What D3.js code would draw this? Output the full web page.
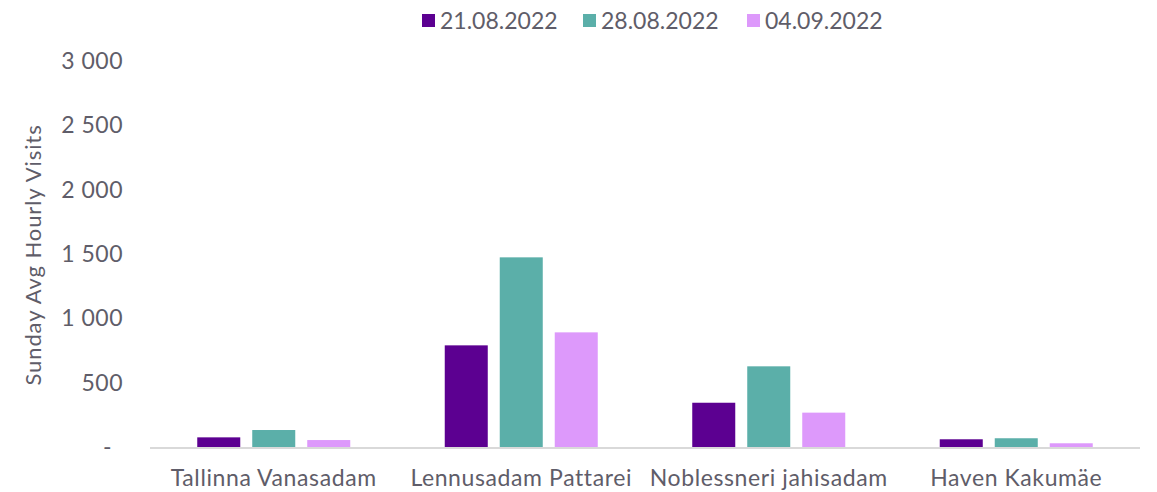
<!DOCTYPE html>
<html>
<head>
  <meta charset="utf-8">
  <title>sunday visits</title>
  <style>
    body { margin: 0; background: #fff; }
    text { font-family: Lato, "Open Sans", sans-serif; fill: #5f5d69; }
  </style>
</head>
<body>
  <svg width="1157" height="492" class="chart"></svg>

  <script src="https://d3js.org/d3.v7.min.js"></script>
  <script type="text/javascript">

  // data
  var categories = ["Tallinna Vanasadam", "Lennusadam Pattarei", "Noblessneri jahisadam", "Haven Kakumäe"];
  var seriesNames = ["21.08.2022", "28.08.2022", "04.09.2022"];
  var week1 = [75, 790, 344, 60];
  var week2 = [132, 1474, 627, 68];
  var week3 = [54, 891, 267, 29];
  var yTicks = [0, 500, 1000, 1500, 2000, 2500, 3000];
  var colors = ["#5c0091", "#5bafa9", "#dd99fb"];

  var series = [week1, week2, week3];

  var svg = d3.select(".chart");
  var plotLeft = 150, plotRight = 1140, plotTop = 61, plotBottom = 447;
  var groupW = 153;

  var x = d3.scaleBand().domain(categories).range([plotLeft, plotRight]);
  var xInner = d3.scaleBand().domain(seriesNames).range([0, groupW]).paddingInner(0.218);
  var y = d3.scaleLinear().domain([0, 3000]).range([plotBottom, plotTop]);

  var fmt = function(d) {
    if (d === 0) return "-";
    return d3.format(",")(d).replace(/,/g, " ");
  };

  // y tick labels
  svg.append("g").selectAll("text")
    .data(yTicks)
    .enter().append("text")
    .attr("x", function(d) { return d === 0 ? 112 : 123; })
    .attr("y", function(d) { return y(d); })
    .attr("dy", "0.35em")
    .attr("text-anchor", "end")
    .style("font-size", "23px")
    .style("letter-spacing", "0.5px")
    .text(fmt);

  // y axis title
  svg.append("text")
    .attr("transform", "translate(41,255) rotate(-90)")
    .attr("text-anchor", "middle")
    .style("font-size", "22px")
    .style("letter-spacing", "0.9px")
    .text("Sunday Avg Hourly Visits");

  // bars
  series.forEach(function(vals, si) {
    svg.append("g").selectAll("rect")
      .data(vals)
      .enter().append("rect")
      .attr("x", function(d, i) {
        return x(categories[i]) + x.bandwidth() / 2 - groupW / 2 + xInner(seriesNames[si]);
      })
      .attr("y", function(d) { return y(d); })
      .attr("width", xInner.bandwidth())
      .attr("height", function(d) { return plotBottom - y(d); })
      .style("fill", colors[si]);
  });

  // baseline
  svg.append("line")
    .attr("x1", plotLeft).attr("x2", plotRight)
    .attr("y1", plotBottom + 1).attr("y2", plotBottom + 1)
    .style("stroke", "#d9d9d9")
    .style("stroke-width", 2);

  // category labels
  svg.append("g").selectAll("text")
    .data(categories)
    .enter().append("text")
    .attr("x", function(d) { return x(d) + x.bandwidth() / 2; })
    .attr("y", 486)
    .attr("text-anchor", "middle")
    .style("font-size", "23px")
    .style("letter-spacing", "0.6px")
    .text(function(d) { return d; });

  // legend
  var legendX = [422, 583, 747];
  var legend = svg.append("g").selectAll("g")
    .data(seriesNames)
    .enter().append("g")
    .attr("transform", function(d, i) { return "translate(" + legendX[i] + ",0)"; });
  legend.append("rect")
    .attr("x", 0).attr("y", 14)
    .attr("width", 13).attr("height", 13)
    .style("fill", function(d, i) { return colors[i]; });
  legend.append("text")
    .attr("x", 18).attr("y", 21)
    .attr("dy", "0.35em")
    .style("font-size", "23px")
    .text(function(d) { return d; });

  </script>
</body>
</html>
